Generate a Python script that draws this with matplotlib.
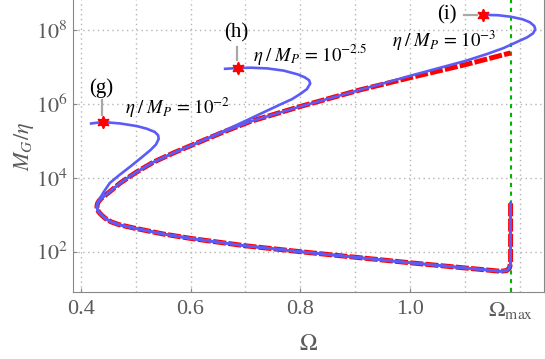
#!/usr/bin/env python3

import numpy as np
import matplotlib
matplotlib.use('Agg')
import matplotlib.pyplot as plt
from matplotlib.ticker import FixedLocator, NullLocator

plt.rcParams['font.family'] = ['Liberation Serif', 'DejaVu Serif']
plt.rcParams['mathtext.fontset'] = 'stix'

omega_max = 1.183

# wall at Omega_max, then lower branch leftwards to the nose
wall_omega = [1.183, 1.183, 1.183, 1.181, 1.176, 1.165]
wall_logm = [3.31, 2.5, 1.7, 1.56, 1.49, 1.47]
low_omega = [1.1, 1.0, 0.9, 0.8, 0.7, 0.6, 0.55, 0.5, 0.47, 0.455, 0.445, 0.438, 0.433, 0.4305]
low_logm = [1.56, 1.70, 1.85, 2.0, 2.16, 2.36, 2.48, 2.63, 2.73, 2.81, 2.90, 2.99, 3.07, 3.14]
# upper branch (limit curve, red dashed)
up_omega = [0.4295, 0.4305, 0.433, 0.438, 0.445, 0.455, 0.472, 0.5, 0.532, 0.57, 0.61, 0.66, 0.708, 0.8, 0.909, 1.0, 1.1, 1.183]
up_logm = [3.22, 3.30, 3.37, 3.45, 3.53, 3.65, 3.86, 4.14, 4.42, 4.68, 4.93, 5.24, 5.52, 5.93, 6.38, 6.71, 7.06, 7.38]

# eta/M_P = 1e-2  (g)
g_omega = [0.4295, 0.4305, 0.434, 0.442, 0.453, 0.47, 0.49, 0.51, 0.527, 0.537, 0.542, 0.541, 0.535, 0.52, 0.502, 0.472, 0.44, 0.419]
g_logm = [3.22, 3.32, 3.42, 3.62, 3.86, 4.07, 4.30, 4.54, 4.75, 4.90, 5.05, 5.15, 5.24, 5.33, 5.40, 5.47, 5.51, 5.47]
# eta/M_P = 1e-2.5  (h)
h_omega = [0.61, 0.64, 0.67, 0.70, 0.73, 0.76, 0.785, 0.80, 0.812, 0.818, 0.816, 0.808, 0.795, 0.77, 0.74, 0.71, 0.687, 0.663]
h_logm = [4.93, 5.13, 5.33, 5.54, 5.75, 5.96, 6.13, 6.27, 6.40, 6.55, 6.64, 6.72, 6.80, 6.90, 6.96, 6.98, 6.97, 6.95]
# eta/M_P = 1e-3  (i)
i_omega = [0.95, 1.0, 1.05, 1.1, 1.14, 1.17, 1.195, 1.213, 1.224, 1.228, 1.226, 1.218, 1.205, 1.183, 1.16, 1.132]
i_logm = [6.55, 6.76, 6.96, 7.16, 7.35, 7.51, 7.68, 7.80, 7.91, 8.02, 8.11, 8.21, 8.29, 8.36, 8.40, 8.41]

stars_omega = [0.440, 0.687, 1.132]
stars_logm = [5.52, 6.96, 8.41]

blue = '#5b5bf7'
gray = '#5a5a5a'


def main():
	fig = plt.figure(figsize=(5.45, 3.59), dpi=100)
	ax = fig.add_axes([0.1334, 0.1866, 0.8648, 0.8134])

	base_o = wall_omega + low_omega
	base_l = wall_logm + low_logm

	red_o = base_o + up_omega
	red_l = base_l + up_logm
	ax.plot(red_o, 10**np.array(red_l), color='red', lw=3.6, dashes=(2.6, 0.45), zorder=3)

	n_h = up_omega.index(0.57) + 1
	n_i = up_omega.index(0.909) + 1
	curves = [
		(base_o + g_omega, base_l + g_logm),
		(base_o + up_omega[:n_h] + h_omega, base_l + up_logm[:n_h] + h_logm),
		(base_o + up_omega[:n_i] + i_omega, base_l + up_logm[:n_i] + i_logm),
	]
	for o, l in curves:
		ax.plot(o, 10**np.array(l), color=blue, lw=1.9, zorder=4, solid_joinstyle='round')

	ax.plot(stars_omega, 10**np.array(stars_logm), ls='none', marker=(6, 1, 0),
		ms=9, color='red', zorder=6)

	ax.axvline(omega_max, color='#00b400', lw=1.5, ls=(0, (2, 2.2)), zorder=2)

	# leader lines and labels
	lc = '#a8a8a8'
	ax.plot([0.438, 0.438], [10**6.11, 10**5.70], color=lc, lw=1.6)
	ax.plot([0.684, 0.684], [10**7.55, 10**7.19], color=lc, lw=1.6)
	ax.plot([1.0975, 1.1225], [10**8.41, 10**8.41], color=lc, lw=1.6)
	ax.text(0.438, 10**6.42, '(g)', fontsize=15, ha='center', va='center')
	ax.text(0.684, 10**7.93, '(h)', fontsize=15, ha='center', va='center')
	ax.text(1.0667, 10**8.41, '(i)', fontsize=15, ha='center', va='center')

	ax.text(0.4807, 10**5.90, r'$\eta\;/\;M_P\, =\, 10^{-2}$', fontsize=13.5, va='center')
	ax.text(0.714, 10**7.33, r'$\eta\;/\;M_P\, =\, 10^{-2.5}$', fontsize=13.5, va='center')
	ax.text(0.9665, 10**7.70, r'$\eta\;/\;M_P\, =\, 10^{-3}$', fontsize=13.5, va='center')

	ax.set_yscale('log')
	ax.set_xlim(0.3854, 1.2439)
	ax.set_ylim(10**0.909, 10**8.812)

	ax.xaxis.set_major_locator(FixedLocator([0.4, 0.6, 0.8, 1.0, omega_max]))
	ax.set_xticklabels(['0.4', '0.6', '0.8', '1.0', r'$\Omega_{\rm max}$'])
	ax.xaxis.set_minor_locator(NullLocator())
	ax.yaxis.set_major_locator(FixedLocator([1e2, 1e4, 1e6, 1e8]))
	ax.set_yticklabels([r'$10^{2}$', r'$10^{4}$', r'$10^{6}$', r'$10^{8}$'])
	ax.yaxis.set_minor_locator(NullLocator())

	for x in np.arange(0.4, 1.25, 0.1):
		ax.axvline(x, color='#b4b4b4', lw=1.0, ls=(0, (1, 2.5)), zorder=1)
	for y in [1e2, 1e4, 1e6, 1e8]:
		ax.axhline(y, color='#b4b4b4', lw=1.0, ls=(0, (1, 2.5)), zorder=1)

	ax.tick_params(direction='in', length=3, color='#888888', labelcolor=gray, labelsize=16)
	ax.tick_params(axis='x', pad=6)
	for s in ['left', 'bottom', 'right']:
		ax.spines[s].set_color('#888888')
	ax.spines['top'].set_visible(False)

	ax.set_xlabel(r'$\Omega$', fontsize=17, color=gray, labelpad=9)
	ax.set_ylabel(r'$M_G/\eta$', fontsize=16, color=gray, labelpad=0)

	fig.savefig('out.png', dpi=100)


if __name__ == '__main__':
	main()
